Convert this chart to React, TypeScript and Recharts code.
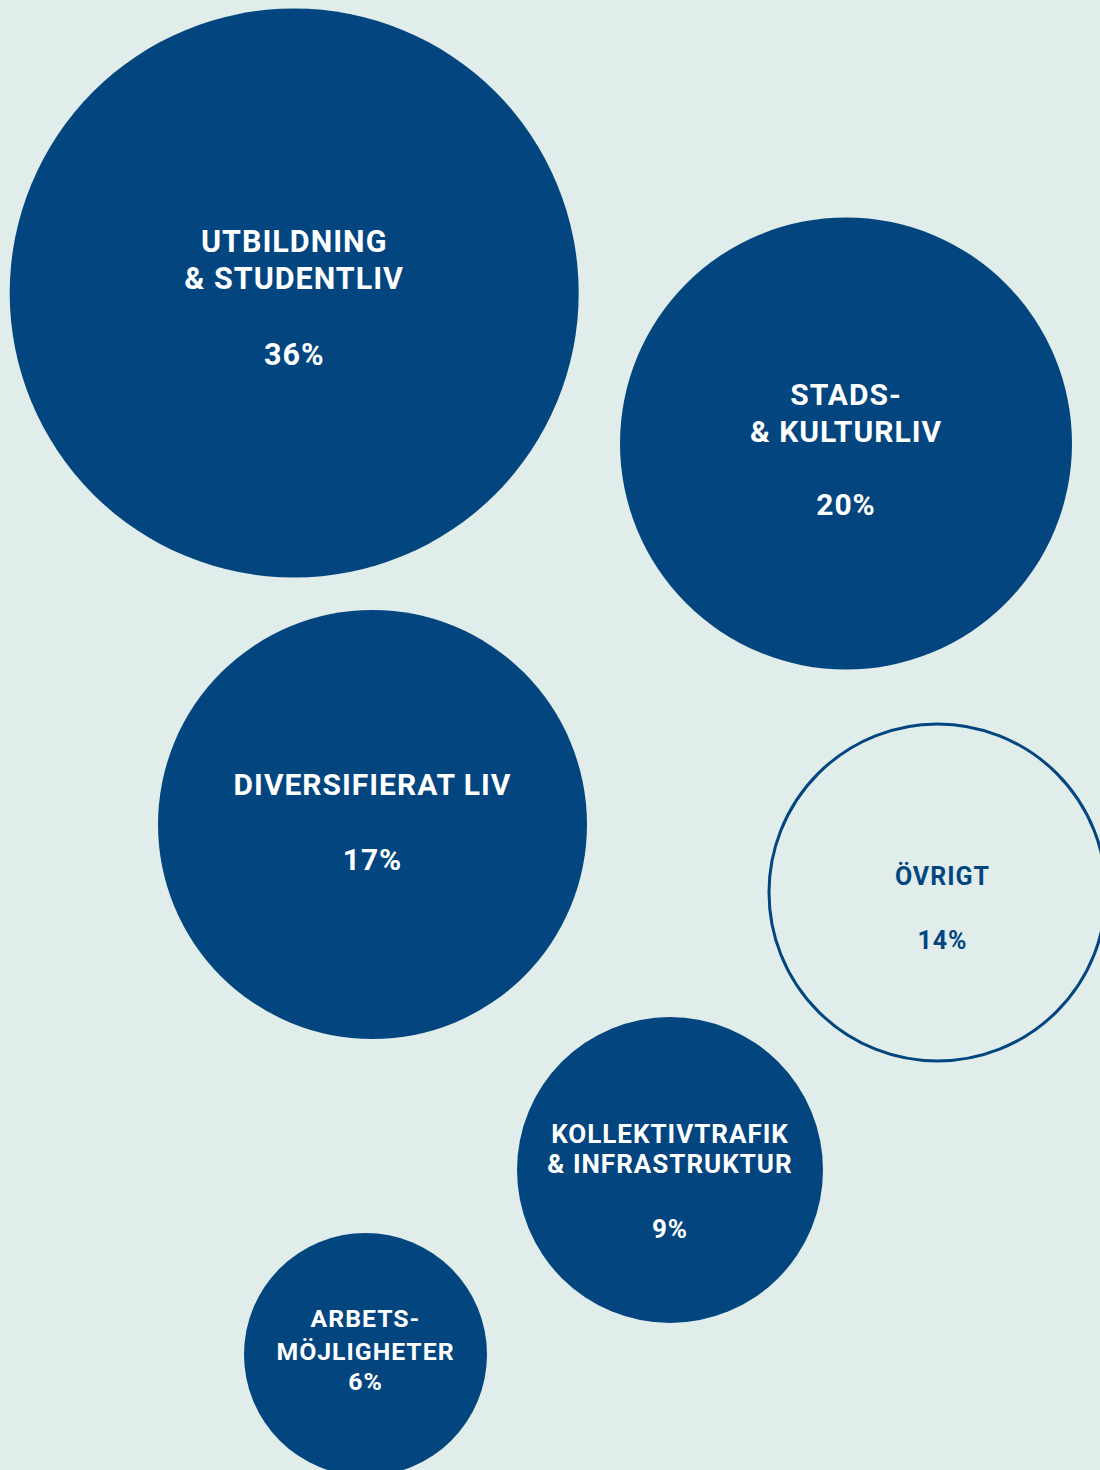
import React from "react";
import { ScatterChart, Scatter, XAxis, YAxis, ZAxis } from "recharts";

// Layout units: 1 unit = 10 px of the 1100 x 1470 canvas
const categories: string[][] = [
  ["UTBILDNING", "& STUDENTLIV"],
  ["STADS-", "& KULTURLIV"],
  ["DIVERSIFIERAT LIV"],
  ["ÖVRIGT"],
  ["KOLLEKTIVTRAFIK", "& INFRASTRUKTUR"],
  ["ARBETS-", "MÖJLIGHETER"],
];
const shares: number[] = [36, 20, 17, 14, 9, 6];
const bubbleX: number[] = [29.42, 84.6, 37.25, 93.75, 67.0, 36.55];
const bubbleY: number[] = [29.3, 44.35, 82.45, 89.25, 117.0, 135.45];
const bubbleR: number[] = [28.45, 22.6, 21.45, 17.0, 15.3, 12.15];
const outlined: boolean[] = [false, false, false, true, false, false];

const BLUE = "#03467f";
const BG = "#e0edea";

// text layout per bubble (baseline offsets from centre, px)
const textStyle = [
  { fs: 30.5, first: -41, lh: 37, pct: 72, dx: 0 },
  { fs: 30, first: -38.5, lh: 37, pct: 71.5, dx: 0 },
  { fs: 30, first: -29.5, lh: 0, pct: 45.5, dx: 0 },
  { fs: 25, first: -7.5, lh: 0, pct: 56.5, dx: 5 },
  { fs: 26, first: -27, lh: 30, pct: 68, dx: 0 },
  { fs: 24.8, first: -27.5, lh: 33, pct: 35.5, dx: 0 },
];

const data = categories.map((lines, i) => ({
  idx: i,
  lines,
  share: shares[i],
  x: bubbleX[i],
  y: bubbleY[i],
  area: bubbleR[i] * bubbleR[i],
  outlined: outlined[i],
}));

const FONT = "Roboto, 'DejaVu Sans', sans-serif";

const Bubble = (props: any) => {
  const { cx, cy, width, payload } = props;
  const r = width / 2;
  const st = textStyle[payload.idx];
  const color = payload.outlined ? BLUE : "#ffffff";
  return (
    <g>
      {payload.outlined ? (
        <circle cx={cx} cy={cy} r={r - 1.5} fill="none" stroke={BLUE} strokeWidth={3} />
      ) : (
        <circle cx={cx} cy={cy} r={r} fill={BLUE} />
      )}
      {payload.lines.map((ln: string, k: number) => (
        <text
          key={k}
          x={cx + st.dx}
          y={cy + st.first + k * st.lh}
          textAnchor="middle"
          fill={color}
          fontFamily={FONT}
          fontWeight={700}
          fontSize={st.fs}
          letterSpacing={1}
        >
          {ln}
        </text>
      ))}
      <text
        x={cx + st.dx}
        y={cy + st.pct}
        textAnchor="middle"
        fill={color}
        fontFamily={FONT}
        fontWeight={700}
        fontSize={st.fs}
        letterSpacing={1}
      >
        {payload.share + "%"}
      </text>
    </g>
  );
};

export default function App() {
  return (
    <div style={{ width: 1100, height: 1470, background: BG, overflow: "hidden" }}>
      <style>{`body{margin:0;}`}</style>
      <ScatterChart width={1100} height={1470} margin={{ top: 0, right: 0, bottom: 0, left: 0 }}>
        <XAxis type="number" dataKey="x" domain={[0, 110]} hide allowDataOverflow />
        <YAxis type="number" dataKey="y" domain={[0, 147]} reversed hide allowDataOverflow />
        <ZAxis type="number" dataKey="area" domain={[0, 1000]} range={[0, 1000 * 100 * Math.PI]} />
        <Scatter data={data} shape={Bubble} isAnimationActive={false} />
      </ScatterChart>
    </div>
  );
}
